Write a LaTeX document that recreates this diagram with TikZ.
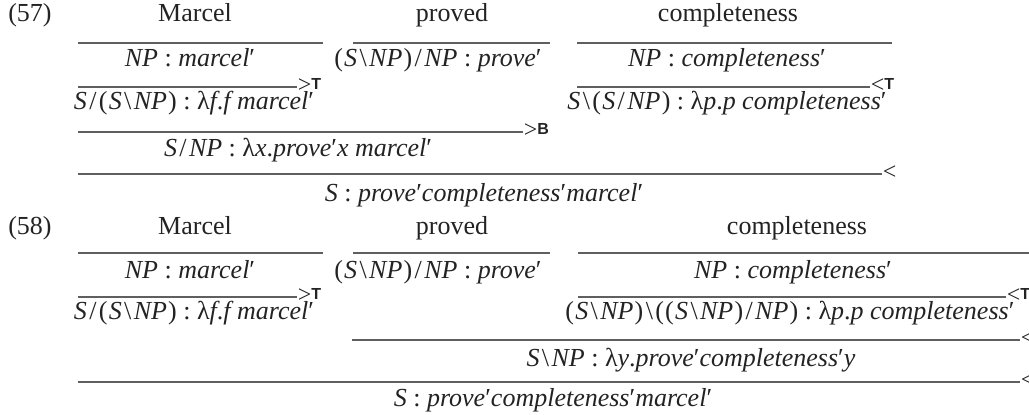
\documentclass[tikz,border=0pt]{standalone}
\usepackage{fontspec}
\setmainfont{Liberation Serif}
\setsansfont{Liberation Sans}
\usetikzlibrary{positioning}
\definecolor{inkgray}{RGB}{35,35,35}
\definecolor{rulegray}{RGB}{95,95,95}
\newcommand{\bsl}{\kern1.2pt\textbackslash\kern1.2pt}
\newcommand{\fsl}{\kern1.2pt/\kern1.2pt}
\newcommand{\lp}{(\kern0.6pt}
\newcommand{\rp}{\kern0.6pt)}
\newcommand{\rulemark}[2]{{\fontsize{12}{12}\selectfont #1}\raisebox{1.6pt}{\sffamily\bfseries\fontsize{8}{8}\selectfont #2}}

\begin{document}
\begin{tikzpicture}[x=0.5pt, y=-0.5pt,
    every node/.style={font=\fontsize{13}{15}\selectfont, text=inkgray, inner sep=0pt},
    word/.style={anchor=base},
    cat/.style={anchor=base},
    rule/.style={draw=rulegray, line width=0.8pt},
    rlabel/.style={anchor=base west, yshift=-3pt}
]
\useasboundingbox (0,0) rectangle (1029,415);
\clip (0,0) rectangle (1029,415);

% Example (57)
\node[word] (ex57) at (30,22) {(57)};
\node[word] (marcelA) at (195,22) {Marcel};
\node[word] (provedA) at (452,22) {proved};
\node[word] (complA) at (728,22) {completeness};

\draw[rule] (78,43) -- (323,43);
\draw[rule] (353,43) -- (550,43);
\draw[rule] (577,43) -- (892,43);

\node[cat] (npmA) at (190,67) {\textit{NP} : \textit{marcel}′};
\node[cat] (tvA) at (438,67) {\lp\textit{S}\bsl\textit{NP}\rp\fsl\textit{NP} : \textit{prove}′};
\node[cat] (npcA) at (727,67) {\textit{NP} : \textit{completeness}′};

\draw[rule] (78,87) -- (297,87) node[rlabel] {\rulemark{>}{T}};
\draw[rule] (577,87) -- (870,87) node[rlabel] {\rulemark{<}{T}};

\node[cat] (trmA) at (194,110) {\textit{S}\fsl\lp\textit{S}\bsl\textit{NP}\rp{} : λ\textit{f}.\textit{f marcel}′};
\node[cat] (trcA) at (727,110) {\textit{S}\bsl\lp\textit{S}\fsl\textit{NP}\rp{} : λ\textit{p}.\textit{p completeness}′};

\draw[rule] (78,132) -- (523,132) node[rlabel] {\rulemark{>}{B}};
\node[cat] (compA) at (298,157) {\textit{S}\fsl\textit{NP} : λ\textit{x}.\textit{prove}′\textit{x marcel}′};

\draw[rule] (78,174) -- (882,174) node[rlabel] {\rulemark{<}{}};
\node[cat] (sA) at (484,202) {\textit{S} : \textit{prove}′\textit{completeness}′\textit{marcel}′};

% Example (58)
\node[word] (ex58) at (30,235) {(58)};
\node[word] (marcelB) at (195,235) {Marcel};
\node[word] (provedB) at (452,235) {proved};
\node[word] (complB) at (797,235) {completeness};

\draw[rule] (78,253) -- (323,253);
\draw[rule] (353,253) -- (550,253);
\draw[rule] (578,253) -- (1040,253);

\node[cat] (npmB) at (190,279) {\textit{NP} : \textit{marcel}′};
\node[cat] (tvB) at (438,279) {\lp\textit{S}\bsl\textit{NP}\rp\fsl\textit{NP} : \textit{prove}′};
\node[cat] (npcB) at (793,279) {\textit{NP} : \textit{completeness}′};

\draw[rule] (78,297) -- (297,297) node[rlabel] {\rulemark{>}{T}};
\draw[rule] (578,297) -- (1006,297) node[rlabel] {\rulemark{<}{T}};

\node[cat] (trmB) at (194,320) {\textit{S}\fsl\lp\textit{S}\bsl\textit{NP}\rp{} : λ\textit{f}.\textit{f marcel}′};
\node[cat, anchor=base west] (trcB) at (565,320) {\lp\textit{S}\bsl\textit{NP}\rp\bsl\lp\lp\textit{S}\bsl\textit{NP}\rp\fsl\textit{NP}\rp{} : λ\textit{p}.\textit{p completeness}′};

\draw[rule] (352,340) -- (1020,340) node[rlabel] {\rulemark{<}{}};
\node[cat] (vpB) at (691,367) {\textit{S}\bsl\textit{NP} : λ\textit{y}.\textit{prove}′\textit{completeness}′\textit{y}};

\draw[rule] (78,382) -- (1020,382) node[rlabel] {\rulemark{<}{}};
\node[cat] (sB) at (553,407) {\textit{S} : \textit{prove}′\textit{completeness}′\textit{marcel}′};

\end{tikzpicture}
\end{document}
